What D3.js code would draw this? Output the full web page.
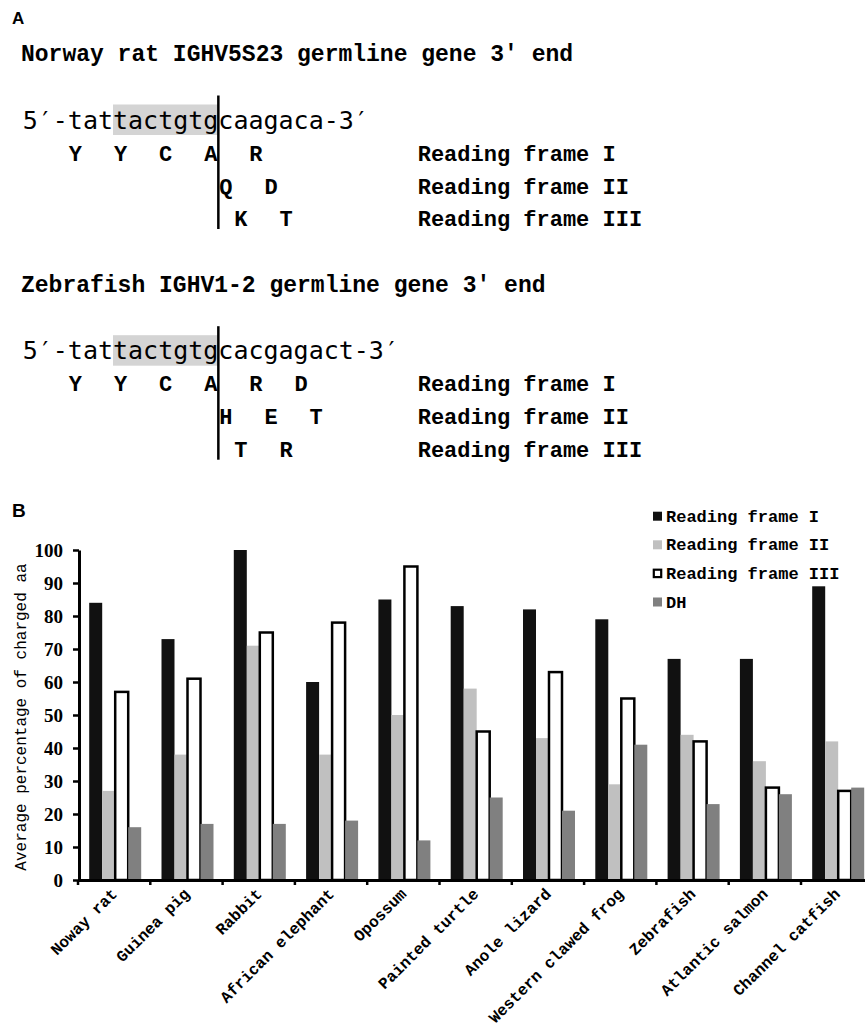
<!DOCTYPE html>
<html>
<head>
<meta charset="utf-8">
<script src="https://cdn.jsdelivr.net/npm/d3@7"></script>
<style>
  body { margin: 0; background: #fff; }
  svg { display: block; }
</style>
</head>
<body>
<div id="chart-area"></div>
<script>

// panel B data
const species = ['Noway rat', 'Guinea pig', 'Rabbit', 'African elephant', 'Opossum',
  'Painted turtle', 'Anole lizard', 'Western clawed frog', 'Zebrafish',
  'Atlantic salmon', 'Channel catfish'];
const seriesNames = ['Reading frame I', 'Reading frame II', 'Reading frame III', 'DH'];
const frameI = [84, 73, 100, 60, 85, 83, 82, 79, 67, 67, 89];
const frameII = [27, 38, 71, 38, 50, 58, 43, 29, 44, 36, 42];
const frameIII = [57, 61, 75, 78, 95, 45, 63, 55, 42, 28, 27];
const dh = [16, 17, 17, 18, 12, 25, 21, 41, 23, 26, 28];
const yTicks = [0, 10, 20, 30, 40, 50, 60, 70, 80, 90, 100];

// panel A text
const genes = [
  {
    title: 'Norway rat IGHV5S23 germline gene 3\u2032 end',
    seq: '5\u2032-tattactgtgcaagaca-3\u2032',
    frames: ['   Y  Y  C  A  R', '             Q  D', '              K  T'],
  },
  {
    title: 'Zebrafish IGHV1-2 germline gene 3\u2032 end',
    seq: '5\u2032-tattactgtgcacgagact-3\u2032',
    frames: ['   Y  Y  C  A  R  D', '             H  E  T', '              T  R'],
  },
];
const frameLabels = ['Reading frame I', 'Reading frame II', 'Reading frame III'];

const widthSvg = 865;
const heightSvg = 1034;
const mono = '"Liberation Mono", "Courier New", monospace';
const sansMono = '"DejaVu Sans Mono", monospace';
const colors = ['#111111', '#c0c0c0', '#ffffff', '#808080'];

const svg = d3.select('#chart-area').append('svg')
  .attr('width', widthSvg)
  .attr('height', heightSvg);

// ---------- panel A ----------
svg.append('text')
  .text('A')
    .attr('x', 12)
    .attr('y', 24)
    .attr('font-family', 'Arial, "Liberation Sans", sans-serif')
    .attr('font-weight', 'bold')
    .attr('font-size', '17px');

const charW = 15.05;
const seqX = 22.7;
const blockTops = [61, 291.7];

genes.forEach((g, gi) => {
  const top = blockTops[gi];
  const seqY = top + 67.5;
  const block = svg.append('g');

  block.append('text')
    .text(g.title)
      .attr('x', 21)
      .attr('y', top)
      .attr('font-family', mono)
      .attr('font-weight', 'bold')
      .attr('font-size', '23px');

  // shaded codons tactgtg
  block.append('rect')
    .attr('x', seqX + 6 * charW)
    .attr('y', seqY - 24)
    .attr('width', 7 * charW)
    .attr('height', 30.5)
    .attr('fill', '#d4d4d4');

  block.append('text')
    .text(g.seq)
      .attr('x', seqX)
      .attr('y', seqY)
      .attr('font-family', sansMono)
      .attr('font-size', '25px');

  const rowY = [seqY + 32, seqY + 65, seqY + 97.5];

  g.frames.forEach((row, ri) => {
    row.split('').forEach((ch, ci) => {
      if (ch === ' ') return;
      block.append('text')
        .text(ch)
          .attr('x', seqX + (ci + 0.5) * charW)
          .attr('y', rowY[ri])
          .attr('text-anchor', 'middle')
          .attr('font-family', mono)
          .attr('font-weight', 'bold')
          .attr('font-size', '22px');
    });
    block.append('text')
      .text(frameLabels[ri])
        .attr('x', 417.7)
        .attr('y', rowY[ri])
        .attr('font-family', mono)
        .attr('font-weight', 'bold')
        .attr('font-size', '22px');
  });

  block.append('line')
    .attr('x1', seqX + 13 * charW)
    .attr('x2', seqX + 13 * charW)
    .attr('y1', seqY - 33)
    .attr('y2', rowY[2] + 3)
    .attr('stroke', '#000')
    .attr('stroke-width', 2.5);
});

// ---------- panel B ----------
svg.append('text')
  .text('B')
    .attr('x', 12)
    .attr('y', 517)
    .attr('font-family', 'Arial, "Liberation Sans", sans-serif')
    .attr('font-weight', 'bold')
    .attr('font-size', '19px');

const table = species.map((s, i) => ({
  name: s,
  values: [frameI[i], frameII[i], frameIII[i], dh[i]],
}));

const scaleX = d3.scaleBand()
  .domain(species)
  .range([78, 873.3])
  .padding(0);

const scaleSeries = d3.scaleBand()
  .domain(seriesNames)
  .range([11.2, 63.2])
  .padding(0);

const scaleY = d3.scaleLinear()
  .domain([0, 100])
  .range([880, 550]);

const chart = svg.append('g');

const groups = chart.selectAll('g.group')
  .data(table)
  .enter().append('g')
    .attr('class', 'group')
    .attr('transform', d => `translate(${scaleX(d.name)}, 0)`);

groups.selectAll('rect')
  .data(d => d.values.map((v, k) => ({ key: seriesNames[k], value: v, k })))
  .enter().append('rect')
    .attr('x', d => scaleSeries(d.key))
    .attr('y', d => scaleY(d.value))
    .attr('width', scaleSeries.bandwidth())
    .attr('height', d => scaleY(0) - scaleY(d.value))
    .attr('fill', d => colors[d.k])
    .attr('stroke', d => d.k === 2 ? '#000' : 'none')
    .attr('stroke-width', 2.5);

// y axis
const axisY = d3.axisLeft(scaleY)
  .tickValues(yTicks)
  .tickSize(6)
  .tickSizeOuter(0)
  .tickPadding(10);

const axisGroupY = chart.append('g')
  .attr('transform', 'translate(79, 0)')
  .call(axisY);

axisGroupY.select('.domain').attr('stroke-width', 3);
axisGroupY.selectAll('.tick line').attr('stroke-width', 2.5);
axisGroupY.selectAll('.tick text')
  .attr('font-family', '"Liberation Serif", "Times New Roman", serif')
  .attr('font-weight', 'bold')
  .attr('font-size', '19px')
  .attr('fill', '#000');

// x axis
const axisX = d3.axisBottom(scaleX)
  .tickSize(0)
  .tickSizeOuter(0);

const axisGroupX = chart.append('g')
  .attr('transform', `translate(0, ${scaleY(0)})`)
  .call(axisX);

axisGroupX.select('.domain').attr('stroke-width', 3);
axisGroupX.selectAll('.tick text')
  .attr('x', null)
  .attr('y', null)
  .attr('dy', null)
  .attr('transform', 'translate(4, 15) rotate(-45)')
  .attr('text-anchor', 'end')
  .attr('font-family', mono)
  .attr('font-weight', 'bold')
  .attr('font-size', '16px')
  .attr('fill', '#000');

// ticks between categories
const boundaries = species.map(s => scaleX(s)).concat([scaleX.range()[1]]);
axisGroupX.selectAll('line.bound')
  .data(boundaries)
  .enter().append('line')
    .attr('class', 'bound')
    .attr('x1', d => d)
    .attr('x2', d => d)
    .attr('y1', 0)
    .attr('y2', 5)
    .attr('stroke', '#000')
    .attr('stroke-width', 2.5);

chart.append('text')
  .text('Average percentage of charged aa')
    .attr('transform', `translate(26, ${(scaleY(0) + scaleY(100)) / 2 + 2})rotate(-90)`)
    .attr('text-anchor', 'middle')
    .attr('font-family', mono)
    .attr('font-size', '16px');

// legend
const legend = svg.append('g')
  .attr('transform', 'translate(653, 521.7)');

const legendRows = legend.selectAll('g')
  .data(seriesNames)
  .enter().append('g')
    .attr('transform', (d, i) => `translate(0, ${i * 28.6})`);

legendRows.append('rect')
  .attr('x', (d, i) => i === 2 ? 0.8 : 0)
  .attr('y', (d, i) => i === 2 ? -9.2 : -10)
  .attr('width', (d, i) => i === 2 ? 7.4 : 9)
  .attr('height', (d, i) => i === 2 ? 7.4 : 9)
  .attr('fill', (d, i) => colors[i])
  .attr('stroke', (d, i) => i === 2 ? '#000' : 'none')
  .attr('stroke-width', 2.2);

legendRows.append('text')
  .text(d => d)
    .attr('x', 13)
    .attr('y', 0)
    .attr('font-family', mono)
    .attr('font-weight', 'bold')
    .attr('font-size', '17px');

</script>
</body>
</html>
